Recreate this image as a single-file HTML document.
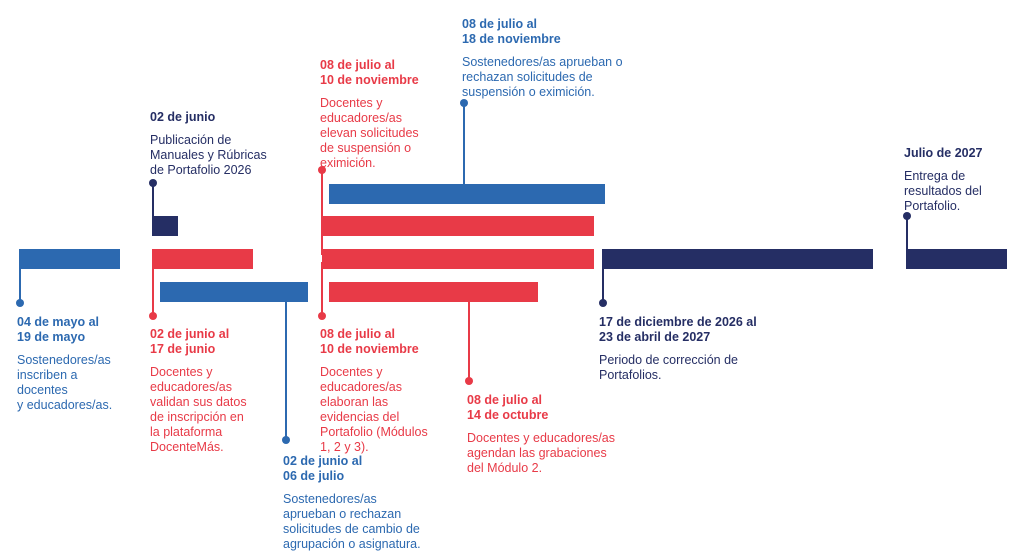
<!DOCTYPE html>
<html><head><meta charset="utf-8"><style>
body{margin:0;width:1024px;height:559px;background:#fff;position:relative;overflow:hidden;font-family:"Liberation Sans",sans-serif}
.b{position:absolute;height:20px}
.bl{background:#2c69b0}.r{background:#e83a47}.n{background:#252e64}
.v{position:absolute;width:2px}
.d{position:absolute;width:8px;height:8px;border-radius:50%}
.t{position:absolute;font-size:12.5px;line-height:15px}
.t b{display:block;margin-bottom:8px}
.cb{color:#2c69b0}.cr{color:#e83a47}.cn{color:#252e64}
</style></head><body>
<!-- bars -->
<div class="b bl" style="left:329px;top:184px;width:276px"></div>
<div class="b n" style="left:152px;top:216px;width:26px"></div>
<div class="b r" style="left:322px;top:216px;width:272px"></div>
<div class="b bl" style="left:19px;top:249px;width:101px"></div>
<div class="b r" style="left:152px;top:249px;width:101px"></div>
<div class="b r" style="left:322px;top:249px;width:272px"></div>
<div class="b n" style="left:602px;top:249px;width:271px"></div>
<div class="b n" style="left:906px;top:249px;width:101px"></div>
<div class="b bl" style="left:160px;top:282px;width:148px"></div>
<div class="b r" style="left:329px;top:282px;width:209px"></div>
<!-- lines -->
<div class="v bl" style="left:19px;top:262px;height:41px"></div><div class="d bl" style="left:16px;top:299px"></div>
<div class="v r" style="left:152px;top:262px;height:54px"></div><div class="d r" style="left:149px;top:312px"></div>
<div class="v n" style="left:152px;top:183px;height:38px"></div><div class="d n" style="left:149px;top:179px"></div>
<div class="v bl" style="left:285px;top:300px;height:140px"></div><div class="d bl" style="left:282px;top:436px"></div>
<div class="v r" style="left:321px;top:170px;height:85px"></div><div class="d r" style="left:318px;top:166px"></div>
<div class="v r" style="left:321px;top:262px;height:54px"></div><div class="d r" style="left:318px;top:312px"></div>
<div class="v bl" style="left:463px;top:103px;height:83px"></div><div class="d bl" style="left:460px;top:99px"></div>
<div class="v r" style="left:468px;top:300px;height:81px"></div><div class="d r" style="left:465px;top:377px"></div>
<div class="v n" style="left:602px;top:262px;height:41px"></div><div class="d n" style="left:599px;top:299px"></div>
<div class="v n" style="left:906px;top:216px;height:35px"></div><div class="d n" style="left:903px;top:212px"></div>
<!-- texts -->
<div class="t cb" style="left:462px;top:17px"><b>08 de julio al<br>18 de noviembre</b>Sostenedores/as aprueban o<br>rechazan solicitudes de<br>suspensión o eximición.</div>
<div class="t cr" style="left:320px;top:58px"><b>08 de julio al<br>10 de noviembre</b>Docentes y<br>educadores/as<br>elevan solicitudes<br>de suspensión o<br>eximición.</div>
<div class="t cn" style="left:150px;top:110px"><b>02 de junio</b>Publicación de<br>Manuales y Rúbricas<br>de Portafolio 2026</div>
<div class="t cn" style="left:904px;top:146px"><b>Julio de 2027</b>Entrega de<br>resultados del<br>Portafolio.</div>
<div class="t cb" style="left:17px;top:315px"><b>04 de mayo al<br>19 de mayo</b>Sostenedores/as<br>inscriben a<br>docentes<br>y educadores/as.</div>
<div class="t cr" style="left:150px;top:327px"><b>02 de junio al<br>17 de junio</b>Docentes y<br>educadores/as<br>validan sus datos<br>de inscripción en<br>la plataforma<br>DocenteMás.</div>
<div class="t cr" style="left:320px;top:327px"><b>08 de julio al<br>10 de noviembre</b>Docentes y<br>educadores/as<br>elaboran las<br>evidencias del<br>Portafolio (Módulos<br>1, 2 y 3).</div>
<div class="t cn" style="left:599px;top:315px"><b>17 de diciembre de 2026 al<br>23 de abril de 2027</b>Periodo de corrección de<br>Portafolios.</div>
<div class="t cr" style="left:467px;top:393px"><b>08 de julio al<br>14 de octubre</b>Docentes y educadores/as<br>agendan las grabaciones<br>del Módulo 2.</div>
<div class="t cb" style="left:283px;top:454px"><b>02 de junio al<br>06 de julio</b>Sostenedores/as<br>aprueban o rechazan<br>solicitudes de cambio de<br>agrupación o asignatura.</div>
</body></html>
